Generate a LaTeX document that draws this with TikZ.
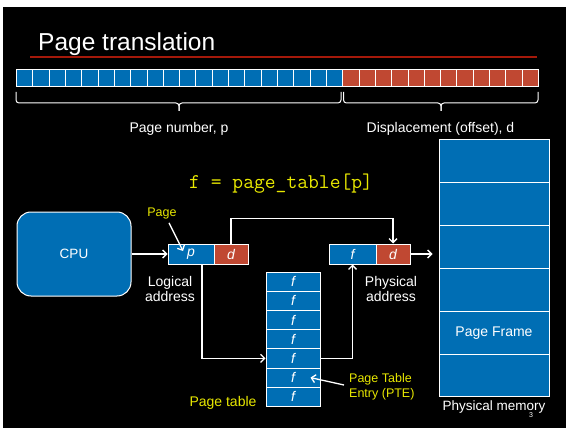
\documentclass[tikz,border=0pt]{standalone}
\usepackage{fontspec}
\setmainfont{Liberation Sans}
\usetikzlibrary{arrows.meta,calc}
\definecolor{cblue}{RGB}{0,110,180}
\definecolor{cred}{RGB}{192,72,50}
\definecolor{cyel}{RGB}{232,232,0}
\definecolor{cline}{RGB}{165,25,10}
\begin{document}
\begin{tikzpicture}[x=1pt,y=-1pt,
  txt/.style={text=white, inner sep=0pt, font=\fontsize{14}{15.5}\selectfont},
  yel/.style={text=cyel, inner sep=0pt, font=\fontsize{14}{15.5}\selectfont},
  bitb/.style={draw=white, line width=0.8pt, fill=cblue, minimum width=16.3125pt, minimum height=17pt, inner sep=0pt, anchor=north west},
  bitr/.style={bitb, fill=cred},
  cellb/.style={draw=white, line width=1pt, fill=cblue, inner sep=0pt, minimum height=20pt, text=white, font=\fontsize{14}{15}\selectfont\itshape},
  cellr/.style={cellb, fill=cred},
  ptrow/.style={cellb, minimum width=54pt, minimum height=19.2pt},
  memrow/.style={draw=white, line width=1pt, fill=cblue, inner sep=0pt, minimum width=110pt, minimum height=42.83pt, text=white, font=\fontsize{14}{15.5}\selectfont},
  arr/.style={draw=white, line width=1.3pt, -{Straight Barb[length=4pt,width=8pt]}},
  brace/.style={draw=white, line width=1pt, rounded corners=3pt}
]
\useasboundingbox (0,0) rectangle (566,428);
\fill[white] (0,0) rectangle (566,428);
\fill[black] (3,7) rectangle (566,428);

% title
\node[anchor=base west, inner sep=0pt, text=white, font=\fontsize{24.5}{28}\selectfont] (title) at (38,51) {Page translation};
\draw[cline, line width=1.3pt] (30,57) -- (537,57);

% bit bar
\foreach \i in {0,...,19} \node[bitb] (b\i) at ({16+\i*16.3125},69) {};
\foreach \i in {20,...,31} \node[bitr] (b\i) at ({16+\i*16.3125},69) {};

% braces
\draw[brace] (16,92) -- (16,103) -- (179,103) -- (179,111);
\draw[brace] (341,92) -- (341,103) -- (179,103) -- (179,111);
\draw[brace] (343.5,92) -- (343.5,103) -- (441,103) -- (441,111);
\draw[brace] (538,92) -- (538,103) -- (441,103) -- (441,111);
\node[txt, anchor=base] (pn) at (179,133) {Page number, p};
\node[txt, anchor=base] (disp) at (440.5,133) {Displacement (offset), d};

% formula
\node[anchor=base west, inner sep=0pt, text=cyel, font=\ttfamily\fontsize{21}{23}\selectfont] (formula) at (189,189) {f = page\_table[p]};

% CPU
\node[draw=white, line width=1pt, fill=cblue, rounded corners=14pt, minimum width=114pt, minimum height=84pt, text=white, font=\fontsize{13.5}{15}\selectfont] (cpu) at (74,254) {CPU};

% logical address
\node[cellb, minimum width=46pt] (lp) at (191,254) {p};
\node[cellr, minimum width=34pt] (ld) at (231,254) {d};
\draw[arr] (cpu.east) -- (lp.west);
\node[yel, font=\fontsize{12.5}{14}\selectfont] (pagelbl) at (162,213) {Page};
\coordinate (ptip) at (183,251);
\draw[arr] ($(pagelbl.south)+(7,4)$) -- (ptip);
\node[txt, align=center] (la) at (170,289) {Logical\\address};

% physical address
\node[cellb, minimum width=47pt] (pf) at (352.5,254) {f};
\node[cellr, minimum width=34pt] (pd) at (393,254) {d};
\node[txt, align=center] (pa) at (391,289) {Physical\\address};
\draw[arr] (ld.north) -- ++(0,-25) -| (pd.north);

% page table
\foreach \i in {0,...,6} \node[ptrow] (pt\i) at (293,{281.6+\i*19.2}) {f};
\draw[arr] ($(lp.south)+(11,0)$) |- (pt4.west);
\draw[arr] (pt4.east) -| (pf.south);
\node[yel, anchor=base] (ptl) at (223,406) {Page table};
\node[yel, anchor=west, align=left, font=\fontsize{12.5}{15}\selectfont] (pte) at (349,387) {Page Table\\Entry (PTE)};
\draw[arr] ([xshift=-5pt,yshift=2pt]pte.west) -- ([xshift=-10pt]pt5.east);

% physical memory
\foreach \i in {0,...,5} \node[memrow] (m\i) at (494,{161.4+\i*42.83}) {};
\node[txt] (pfr) at (m4) {Page Frame};
\draw[arr, shorten >=6pt] (pd.east) -- (pd.east -| m2.west);
\node[txt, anchor=base, font=\fontsize{13.5}{15}\selectfont] (pm) at (494,410) {Physical memory};
\node[txt, font=\fontsize{7}{8}\selectfont] (pgno) at (531,415) {3};
\end{tikzpicture}
\end{document}
